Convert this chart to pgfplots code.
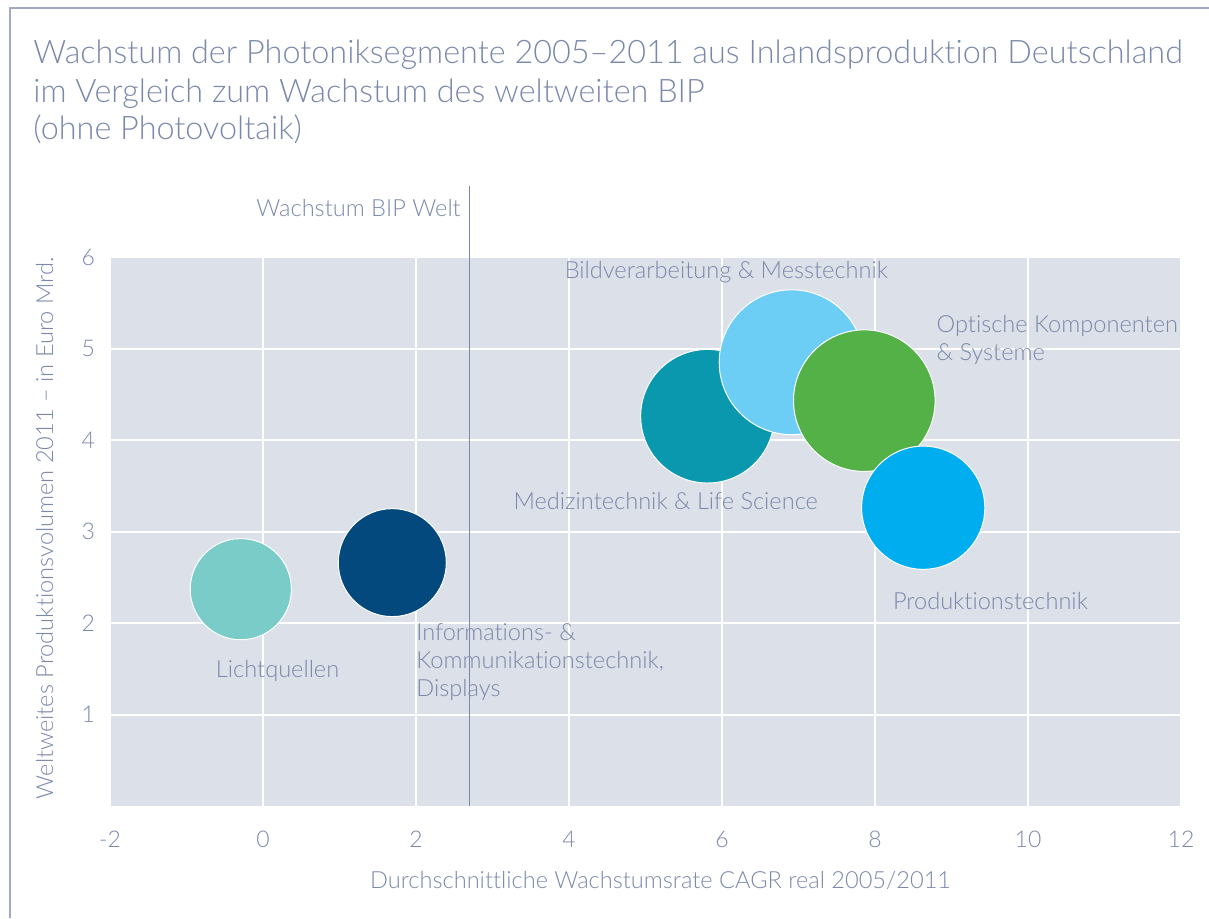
\documentclass[border=0pt]{standalone}
\usepackage{fontspec}
\setmainfont{Lato}[UprightFont=* Light, Ligatures=NoCommon]
\usepackage{pgfplots}
\pgfplotsset{compat=1.18}
\definecolor{txt}{RGB}{122,136,170}
\definecolor{framec}{RGB}{160,170,196}
\definecolor{plotbg}{RGB}{220,224,232}
\definecolor{cLicht}{RGB}{122,204,200}
\definecolor{cIuK}{RGB}{3,73,125}
\definecolor{cMed}{RGB}{10,152,175}
\definecolor{cBild}{RGB}{108,205,245}
\definecolor{cOpt}{RGB}{83,177,72}
\definecolor{cProd}{RGB}{0,174,239}
\tikzset{lbl/.style={inner sep=0, text=txt, font=\fontsize{11.8}{14}\selectfont, align=left}}
\begin{document}
\begin{tikzpicture}
\useasboundingbox (0,0) rectangle (604.5pt,459pt);
\begin{scope}[x=0.5pt,y=0.5pt]
\draw[framec, line width=0.7pt] (10,0) -- (10,910) -- (1209,910);
\node[anchor=base west, inner sep=0, text=txt, font=\fontsize{16.2}{19}\selectfont] at (33,854) {Wachstum der Photoniksegmente 2005–2011 aus Inlandsproduktion Deutschland};
\node[anchor=base west, inner sep=0, text=txt, font=\fontsize{16.2}{19}\selectfont] at (33,815) {im Vergleich zum Wachstum des weltweiten BIP};
\node[anchor=base west, inner sep=0, text=txt, font=\fontsize{16.2}{19}\selectfont] at (33,778) {(ohne Photovoltaik)};
\end{scope}
\begin{axis}[
  at={(55pt,56pt)}, anchor=south west,
  scale only axis, width=535.5pt, height=274.5pt,
  xmin=-2, xmax=12, ymin=0, ymax=6,
  xtick={-2,0,2,4,6,8,10,12}, xticklabels={-2,0,2,4,6,8,10,12},
  ytick={1,2,3,4,5,6}, yticklabels={1,2,3,4,5,6},
  grid=major, major grid style={white, line width=1pt},
  axis line style={draw=none}, major tick style={draw=none},
  axis background/.style={fill=plotbg},
  ticklabel style={font=\fontsize{11.5}{13}\selectfont, text=txt},
  xticklabel style={yshift=-9pt},
  yticklabel style={xshift=-4pt},
  xlabel={Durchschnittliche Wachstumsrate CAGR real 2005/2011},
  ylabel={Weltweites Produktionsvolumen 2011 – in Euro Mrd.},
  xlabel style={at={(axis description cs:0.514,-0.135)}, anchor=center, font=\fontsize{11.8}{13}\selectfont, text=txt},
  ylabel style={at={(axis description cs:-0.061,0.506)}, anchor=center, font=\fontsize{11.8}{13}\selectfont, text=txt},
  clip=false,
]
\addplot[only marks, mark=*, mark size=25.3pt, mark options={fill=cLicht, draw=white, line width=0.5pt}] coordinates {(-0.29,2.37)};
\addplot[only marks, mark=*, mark size=27pt, mark options={fill=cIuK, draw=white, line width=0.5pt}] coordinates {(1.69,2.66)};
\addplot[only marks, mark=*, mark size=33.4pt, mark options={fill=cMed, draw=white, line width=0.5pt}] coordinates {(5.81,4.26)};
\addplot[only marks, mark=*, mark size=36.2pt, mark options={fill=cBild, draw=white, line width=0.5pt}] coordinates {(6.91,4.85)};
\addplot[only marks, mark=*, mark size=35.4pt, mark options={fill=cOpt, draw=white, line width=0.5pt}] coordinates {(7.86,4.43)};
\addplot[only marks, mark=*, mark size=30.8pt, mark options={fill=cProd, draw=white, line width=0.5pt}] coordinates {(8.63,3.26)};
\node[lbl, anchor=west] at (axis cs:3.94,5.83) {Bildverarbeitung \& Messtechnik};
\node[lbl, anchor=west] at (axis cs:8.80,5.09) {Optische Komponenten\\\& Systeme};
\node[lbl, anchor=west] at (axis cs:3.27,3.33) {Medizintechnik \& Life Science};
\node[lbl, anchor=west] at (axis cs:8.23,2.24) {Produktionstechnik};
\node[lbl, anchor=west] at (axis cs:2.00,1.57) {Informations- \&\\Kommunikationstechnik,\\Displays};
\node[lbl, anchor=west] at (axis cs:-0.62,1.48) {Lichtquellen};
\node[lbl, anchor=east] at (axis cs:2.59,6.54) {Wachstum BIP Welt};
\draw[txt, line width=0.75pt] (axis cs:2.7,0) -- (axis cs:2.7,6.78);
\end{axis}
\end{tikzpicture}
\end{document}
